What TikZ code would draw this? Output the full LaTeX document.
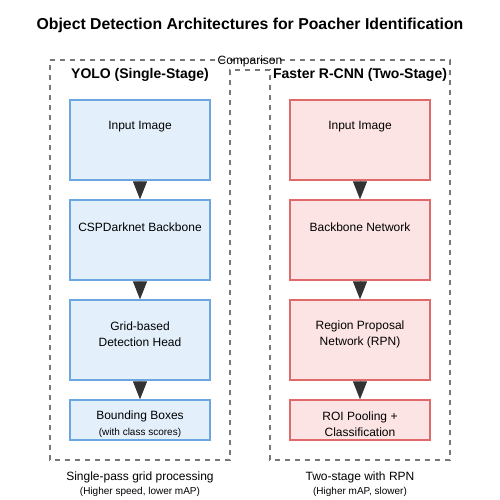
\documentclass[tikz,border=0pt]{standalone}
\usepackage{fontspec}
\setmainfont{Liberation Sans}
\usetikzlibrary{arrows.meta}
\definecolor{yoloFill}{HTML}{E3F0FC}
\definecolor{yoloLine}{HTML}{6AA6E0}
\definecolor{rcnnFill}{HTML}{FDE4E4}
\definecolor{rcnnLine}{HTML}{E06A6A}
\definecolor{frameGray}{HTML}{777777}
\definecolor{tipGray}{HTML}{333333}

\begin{document}
\begin{tikzpicture}[x=1pt,y=-1pt,
	yolobox/.style={draw=yoloLine,fill=yoloFill,line width=1.3pt,minimum width=140pt,inner sep=0pt},
	rcnnbox/.style={draw=rcnnLine,fill=rcnnFill,line width=1.3pt,minimum width=140pt,inner sep=0pt},
	flow/.style={line width=1pt,-{Triangle[width=14pt,length=18pt,color=tipGray]}},
	txt/.style={font=\fontsize{12}{16}\selectfont,align=center,inner sep=0pt},
	small/.style={font=\fontsize{10}{12}\selectfont,inner sep=0pt},
	head/.style={font=\bfseries\fontsize{14}{17}\selectfont,inner sep=0pt}]
	\useasboundingbox (0,0) rectangle (500,500);
	%%%%% TITLE %%%%%
	\node[font=\bfseries\fontsize{15.8}{19}\selectfont] (title) at (250,25) {Object Detection Architectures for Poacher Identification};
	
	%%%%% FRAME %%%%%
	\draw[frameGray,line width=2pt,dash pattern=on 5pt off 5pt] (50,60) -- (450,60) -- (450,460) -- (270,460) -- (270,70) -- (230,70) -- (230,460) -- (50,460) -- cycle;
	\node[txt] (cmp) at (250,61) {Comparison};
	\node[head] (yolo) at (140,75) {YOLO (Single-Stage)};
	\node[head] (rcnn) at (360,75) {Faster R-CNN (Two-Stage)};
	
	%%%%% YOLO %%%%%
	\node[yolobox,minimum height=80pt] (y1) at (140,140) {};
	\node[yolobox,minimum height=80pt] (y2) at (140,240) {};
	\node[yolobox,minimum height=80pt] (y3) at (140,340) {};
	\node[yolobox,minimum height=40pt] (y4) at (140,420) {};
	\node[txt] at (140,127) {Input Image};
	\node[txt] at (140,227) {CSPDarknet Backbone};
	\node[txt] at (140,334) {Grid-based\\Detection Head};
	\node[txt] at (140,416) {Bounding Boxes};
	\node[small] at (140,433) {(with class scores)};
	\draw[flow,yoloLine] (y1) -- (y2);
	\draw[flow,yoloLine] (y2) -- (y3);
	\draw[flow,yoloLine] (y3) -- (y4);
	
	%%%%% FASTER R-CNN %%%%%
	\node[rcnnbox,minimum height=80pt] (r1) at (360,140) {};
	\node[rcnnbox,minimum height=80pt] (r2) at (360,240) {};
	\node[rcnnbox,minimum height=80pt] (r3) at (360,340) {};
	\node[rcnnbox,minimum height=40pt] (r4) at (360,420) {};
	\node[txt] at (360,127) {Input Image};
	\node[txt] at (360,227) {Backbone Network};
	\node[txt] at (360,334) {Region Proposal\\Network (RPN)};
	\node[txt] at (360,424) {ROI Pooling +\\Classification};
	\draw[flow,rcnnLine] (r1) -- (r2);
	\draw[flow,rcnnLine] (r2) -- (r3);
	\draw[flow,rcnnLine] (r3) -- (r4);
	
	%%%%% NOTES %%%%%
	\node[txt] (ynote) at (140,477) {Single-pass grid processing};
	\node[small] at (140,492) {(Higher speed, lower mAP)};
	\node[txt] (rnote) at (360,477) {Two-stage with RPN};
	\node[small] at (360,492) {(Higher mAP, slower)};
\end{tikzpicture}
\end{document}
